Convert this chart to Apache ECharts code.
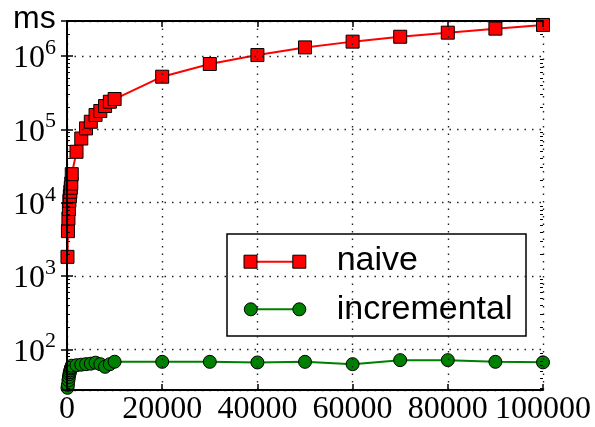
<!DOCTYPE html>
<html><head><meta charset="utf-8">
<script src="https://cdn.jsdelivr.net/npm/echarts@6/dist/echarts.min.js"></script>
<style>html,body{margin:0;padding:0;background:#fff}#c{width:595px;height:427px}</style>
</head><body><div id="c"></div>
<script>
// ---- data ----
const xValues = [100, 200, 300, 400, 500, 600, 700, 800, 900, 1000,
  2000, 3000, 4000, 5000, 6000, 7000, 8000, 9000, 10000,
  20000, 30000, 40000, 50000, 60000, 70000, 80000, 90000, 100000];
const naive = [1830, 4100, 6100, 8200, 10600, 12300, 14100, 16000, 18300, 24500,
  49500, 75000, 103000, 127000, 157000, 178000, 208000, 238000, 259000,
  522000, 778000, 1030000, 1310000, 1570000, 1830000, 2080000, 2360000, 2650000];
const incremental = [30, 33, 38, 42, 46, 49, 52, 55, 57, 60,
  61, 62, 63, 64, 66, 63, 58, 63, 68,
  67.8, 67.8, 66.5, 67.8, 63, 71.5, 71.5, 67.8, 66.7];
const seriesNames = ['naive', 'incremental'];
const xTickLabels = ['0', '20000', '40000', '60000', '80000', '100000'];
const yTickExponents = [2, 3, 4, 5, 6];
const yUnitLabel = 'ms';
const xMin = 0, xMax = 100000, xInterval = 20000;
const yMin = 28, yMax = 3000000;

// minor ticks of the log axis (2..9 x 10^k)
const minorTicks = [];
for (let k = 1; k <= 6; k++) for (let m = 2; m <= 9; m++) {
  const v = m * Math.pow(10, k);
  if (v > yMin && v < yMax) minorTicks.push(v);
}

const serif = 'Liberation Serif';
const sans = 'Liberation Sans';
const frame = {show: true, lineStyle: {color: '#000', width: 2}};
const grid = {left: 67, right: 52, top: 21, bottom: 37};
const dotted = {show: true, lineStyle: {color: '#222', width: 1.4, type: [1.5, 6]}};

const chart = echarts.init(document.getElementById('c'), null, {renderer: 'canvas'});

function yLabel(v) {
  const e = Math.log10(v);
  const r = Math.round(e);
  if (Math.abs(e - r) > 1e-6 || yTickExponents.indexOf(r) < 0) return '';
  return '{b|10}{s|' + r + '}';
}

const baseY = {type: 'log', logBase: 10, min: yMin, max: yMax, gridIndex: 0, z: 10};
const baseX = {type: 'value', min: xMin, max: xMax, interval: xInterval, gridIndex: 0, z: 10};

// plot-area edges, used only to mask marker overflow outside the axes (like matplotlib clipping)
const L = grid.left, R = 595 - grid.right, T = grid.top, B = 427 - grid.bottom;

chart.setOption({
  animation: false,
  backgroundColor: '#fff',
  title: {text: yUnitLabel, left: 13, top: 3, padding: 0,
    textStyle: {fontFamily: sans, fontSize: 32, fontWeight: 'normal', color: '#000'}},
  grid: grid,
  xAxis: [
    Object.assign({}, baseX, {position: 'bottom',
      axisLine: frame,
      axisTick: {show: true, inside: true, length: 6, lineStyle: {color: '#000', width: 1.5}},
      splitLine: dotted,
      axisLabel: {show: true, margin: 4, fontFamily: serif, fontSize: 32, color: '#000',
        showMinLabel: true, showMaxLabel: true,
        formatter: function (v) { const i = Math.round(v / xInterval); return xTickLabels[i] || ''; }}}),
    Object.assign({}, baseX, {position: 'top',
      axisLine: frame,
      axisTick: {show: true, inside: true, length: 6, lineStyle: {color: '#000', width: 1.5}},
      splitLine: {show: false}, axisLabel: {show: false}})
  ],
  yAxis: [
    Object.assign({}, baseY, {position: 'left',
      axisLine: frame,
      axisTick: {show: true, inside: true, length: 6, lineStyle: {color: '#000', width: 1.5}},
      splitLine: dotted,
      axisLabel: {show: true, margin: 11, showMinLabel: false, showMaxLabel: false,
        formatter: yLabel,
        rich: {
          b: {fontFamily: serif, fontSize: 32, color: '#000', padding: [6, 0, 0, 0]},
          s: {fontFamily: serif, fontSize: 22, color: '#000', padding: [0, 0, 16, 0]}
        }}}),
    Object.assign({}, baseY, {position: 'right',
      axisLine: frame,
      axisTick: {show: true, inside: true, length: 6, lineStyle: {color: '#000', width: 1.5}},
      splitLine: {show: false}, axisLabel: {show: false}}),
    Object.assign({}, baseY, {position: 'left',
      axisLine: {show: false},
      axisTick: {show: true, inside: true, length: 3, customValues: minorTicks, lineStyle: {color: '#000', width: 1}},
      splitLine: {show: false}, axisLabel: {show: false}}),
    Object.assign({}, baseY, {position: 'right',
      axisLine: {show: false},
      axisTick: {show: true, inside: true, length: 3, customValues: minorTicks, lineStyle: {color: '#000', width: 1}},
      splitLine: {show: false}, axisLabel: {show: false}})
  ],
  series: [
    {name: seriesNames[0], type: 'line', xAxisIndex: 0, yAxisIndex: 0,
      data: xValues.map((x, i) => [x, naive[i]]),
      symbol: 'rect', symbolSize: 13, showAllSymbol: true,
      lineStyle: {color: '#ff0000', width: 2},
      itemStyle: {color: '#ff0000', borderColor: '#000', borderWidth: 1}, z: 3},
    {name: seriesNames[1], type: 'line', xAxisIndex: 0, yAxisIndex: 0,
      data: xValues.map((x, i) => [x, incremental[i]]),
      symbol: 'circle', symbolSize: 13, showAllSymbol: true,
      lineStyle: {color: '#008000', width: 2},
      itemStyle: {color: '#008000', borderColor: '#000', borderWidth: 1}, z: 3}
  ],
  graphic: [
    {type: 'group', z: 5, silent: true, children: [
      {type: 'rect', shape: {x: L - 11, y: T - 12, width: 10, height: B - T + 24}, style: {fill: '#fff'}},
      {type: 'rect', shape: {x: R + 1, y: T - 12, width: 14, height: B - T + 24}, style: {fill: '#fff'}},
      {type: 'rect', shape: {x: L - 11, y: T - 12, width: R - L + 26, height: 11}, style: {fill: '#fff'}},
      {type: 'rect', shape: {x: L - 11, y: B + 1, width: R - L + 26, height: 6}, style: {fill: '#fff'}}
    ]},
    {type: 'group', z: 100, children: [
      {type: 'rect', shape: {x: 227, y: 234, width: 299, height: 102},
        style: {fill: '#fff', stroke: '#000', lineWidth: 1.5}},
      {type: 'line', shape: {x1: 250.5, y1: 261.7, x2: 299.3, y2: 261.7},
        style: {stroke: '#ff0000', lineWidth: 2}},
      {type: 'rect', shape: {x: 244, y: 255.2, width: 13, height: 13},
        style: {fill: '#ff0000', stroke: '#000', lineWidth: 1}},
      {type: 'rect', shape: {x: 292.8, y: 255.2, width: 13, height: 13},
        style: {fill: '#ff0000', stroke: '#000', lineWidth: 1}},
      {type: 'text', style: {text: seriesNames[0], x: 336.7, y: 260.5, font: '34px "Liberation Sans"',
        fill: '#000', align: 'left', verticalAlign: 'middle'}},
      {type: 'line', shape: {x1: 250.8, y1: 309.3, x2: 299.3, y2: 309.3},
        style: {stroke: '#008000', lineWidth: 2}},
      {type: 'circle', shape: {cx: 250.8, cy: 309.3, r: 6.5},
        style: {fill: '#008000', stroke: '#000', lineWidth: 1}},
      {type: 'circle', shape: {cx: 299.3, cy: 309.3, r: 6.5},
        style: {fill: '#008000', stroke: '#000', lineWidth: 1}},
      {type: 'text', style: {text: seriesNames[1], x: 336.7, y: 310, font: '34px "Liberation Sans"',
        fill: '#000', align: 'left', verticalAlign: 'middle'}}
    ]}
  ]
});
</script>
</body></html>
